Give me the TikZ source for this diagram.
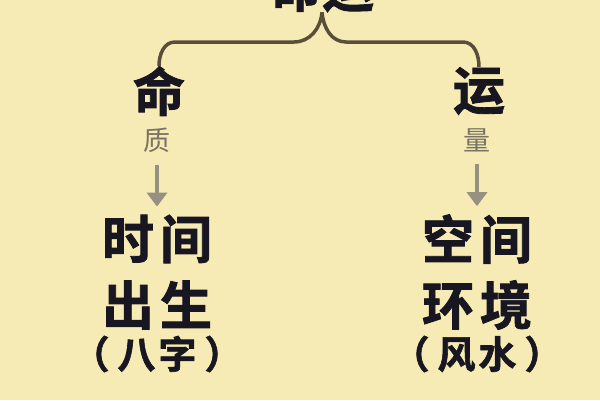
\documentclass[tikz,border=0pt]{standalone}
\usepackage{fontspec}
\newfontfamily\cjk[BoldFont={* Bold}, BoldFeatures={FakeBold=1.6}]{Noto Sans CJK SC}
\usetikzlibrary{arrows.meta,calc}
\definecolor{paper}{RGB}{246,235,181}
\definecolor{ink}{RGB}{24,22,32}
\definecolor{brace}{RGB}{88,78,58}
\definecolor{note}{RGB}{120,115,100}
\definecolor{arrow}{RGB}{150,145,128}

\begin{document}
\begin{tikzpicture}[x=1pt,y=-1pt,
    big/.style={font=\cjk\bfseries\fontsize{52}{52}\selectfont, text=ink, inner sep=0pt},
    small/.style={font=\cjk\fontsize{27}{27}\selectfont, text=note, inner sep=0pt},
    paren/.style={font=\cjk\bfseries\fontsize{38}{38}\selectfont, text=ink, inner sep=0pt},
    bracket/.style={draw=brace, line width=3.5pt},
    down/.style={draw=arrow, line width=4.5pt, -{Triangle[width=20pt,length=14pt]}}]
    \clip (0,0) rectangle (600,400);
    \fill[paper] (0,0) rectangle (600,400);

    \node[big] (title) at (322,-13) {命运};
    \coordinate (bar) at (320,42);

    \foreach \i/\x/\head/\note/\one/\two/\three in {1/157/命/质/时\kern6pt 间/出\kern6pt 生/（\kern8pt 八\kern3pt 字\kern8pt ）, 2/477/运/量/空\kern6pt 间/环\kern6pt 境/（\kern8pt 风\kern3pt 水\kern8pt ）} {
        \node[big] (head_\i) at (\x+2, 91) {\head};
        \node[small] (note_\i) at (\x, 140) {\note};
        \node[big] (row1_\i) at (\x, 239) {\one};
        \node[big] (row2_\i) at (\x, 305) {\two};
        \node[paren] (par_\i) at (\x, 354) {\three};
        \draw[down, shorten <=12pt, shorten >=8pt] (note_\i.south) -- (row1_\i.north);
    }

    \draw[bracket] (title.south) to[out=-95,in=0] ($(bar)+(-26,0)$)
        -- ($(head_1.north |- bar)+(16,0)$) to[out=180,in=90] (head_1.north);
    \draw[bracket] (title.south) to[out=-85,in=180] ($(bar)+(26,0)$)
        -- ($(head_2.north |- bar)+(-16,0)$) to[out=0,in=90] (head_2.north);
\end{tikzpicture}
\end{document}
